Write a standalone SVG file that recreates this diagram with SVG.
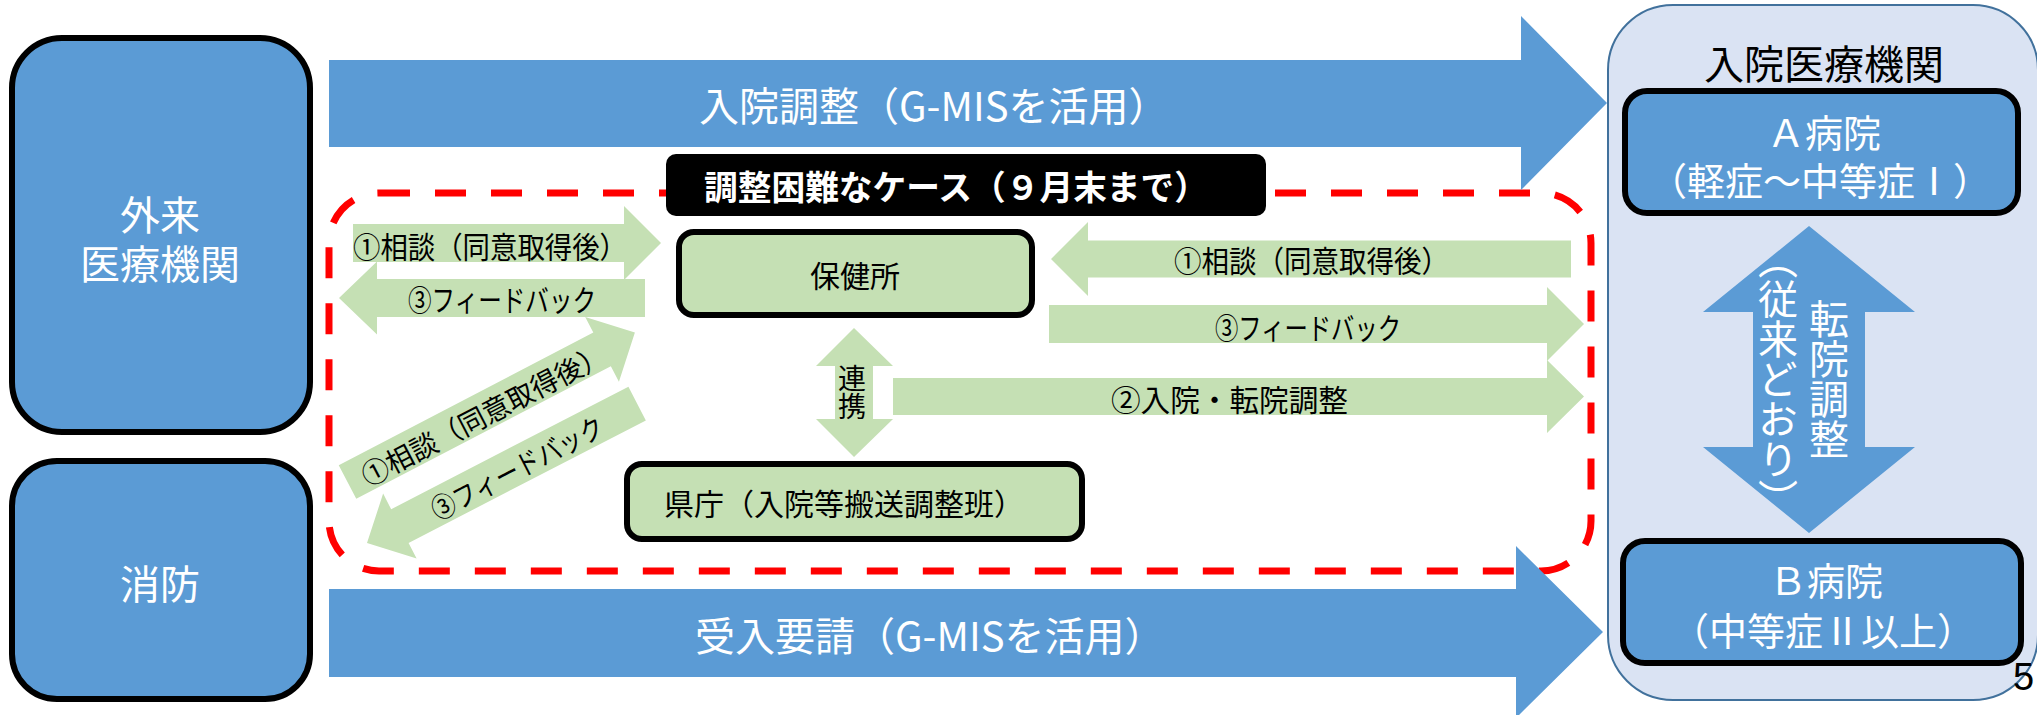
<svg xmlns="http://www.w3.org/2000/svg" width="2037" height="715" viewBox="0 0 2037 715">
<style>
text{font-family:"Noto Sans CJK JP","Noto Sans",sans-serif;dominant-baseline:central}
.blue{fill:#5B9BD5}
.green{fill:#C5E0B4}
.node{stroke:#000;stroke-width:6}
.w40{fill:#fff;font-size:40px}
.w38{fill:#fff;font-size:38px}
.b30{fill:#000;font-size:30px}
.b28{fill:#000;font-size:28px}
.vert{writing-mode:vertical-rl;text-anchor:middle}
</style>
<rect width="2037" height="715" fill="#fff"/>

<g id="container-hospitals">
<rect x="1608" y="5" width="430" height="695" rx="65" fill="#DAE3F3" stroke="#41719C" stroke-width="2"/>
<text x="1824" y="62" text-anchor="middle" style="font-size:40px;fill:#000">入院医療機関</text>
</g>

<g id="dashed-region">
<rect x="329" y="193" width="1262" height="378" rx="50" fill="none" stroke="#FF0000" stroke-width="7" stroke-dasharray="31 25"/>
</g>

<g id="label-difficult">
<rect x="666" y="154" width="600" height="62" rx="10" fill="#000"/>
<text x="704" y="185" style="font-size:34px;font-weight:bold;fill:#fff" textLength="504" lengthAdjust="spacingAndGlyphs">調整困難なケース（９月末まで）</text>
</g>

<g id="connectors">
<polygon class="blue" points="329,60 1521,60 1521,16 1607,103 1521,190 1521,147 329,147"/>
<text x="699" y="104" class="w40">入院調整（G-MISを活用）</text>
<polygon class="blue" points="329,589 1516,589 1516,546 1603,632 1516,718 1516,677 329,677"/>
<text x="695" y="634" class="w40">受入要請（G-MISを活用）</text>

<polygon class="green" points="353,224 624,224 624,206 661,243 624,280 624,262 353,262"/>
<text x="353" y="245" class="b30" textLength="274" lengthAdjust="spacingAndGlyphs">①相談（同意取得後）</text>
<polygon class="green" points="339,298 377,261.5 377,279 645,279 645,317 377,317 377,334.5"/>
<text x="408" y="298" class="b30" textLength="188" lengthAdjust="spacingAndGlyphs">③フィードバック</text>

<polygon class="green" points="1051,259 1088,222 1088,240.5 1571,240.5 1571,277.5 1088,277.5 1088,296"/>
<text x="1174" y="259" class="b30" textLength="275" lengthAdjust="spacingAndGlyphs">①相談（同意取得後）</text>
<polygon class="green" points="1049,305 1547,305 1547,287 1584,324 1547,361 1547,343 1049,343"/>
<text x="1215" y="326" class="b30" textLength="186" lengthAdjust="spacingAndGlyphs">③フィードバック</text>
<polygon class="green" points="893,378 1547,378 1547,360 1584,396.5 1547,433 1547,415 893,415"/>
<text x="1111" y="398" class="b30" textLength="237" lengthAdjust="spacingAndGlyphs">②入院・転院調整</text>

<polygon class="green" points="854,328 893,366 873,366 873,419 893,419 854,457 816,419 835,419 835,366 816,366"/>
<text x="852" y="392" class="b28 vert">連携</text>

<g transform="translate(347.5,482) rotate(-27.5)">
<polygon class="green" points="0,-19 287,-19 287,-36.5 324,0 287,36.5 287,19 0,19"/>
<text x="152" y="2" class="b28" text-anchor="middle" textLength="272" lengthAdjust="spacingAndGlyphs">①相談（同意取得後）</text>
</g>
<g transform="translate(367,543) rotate(-27.3)">
<polygon class="green" points="0,0 37,-36.5 37,-19 304,-19 304,19 37,19 37,36.5"/>
<text x="168" y="1" class="b28" text-anchor="middle" textLength="190" lengthAdjust="spacingAndGlyphs">③フィードバック</text>
</g>

<polygon class="blue" points="1809,226 1915,312 1865,312 1865,447 1915,447 1809,533 1703,447 1753,447 1753,312 1703,312"/>
<text x="1778" y="379" class="w40 vert">（従来どおり）</text>
<text x="1829" y="379" class="w40 vert">転院調整</text>
</g>

<g id="node-outpatient">
<rect x="12" y="38" width="298" height="394" rx="50" class="blue node"/>
<text text-anchor="middle" class="w40"><tspan x="160" y="213">外来</tspan><tspan x="160" y="262">医療機関</tspan></text>
</g>

<g id="node-fire">
<rect x="12" y="461" width="298" height="238" rx="45" class="blue node"/>
<text x="160" y="582" text-anchor="middle" class="w40">消防</text>
</g>

<g id="node-hokenjo">
<rect x="679" y="232" width="353" height="83" rx="15" class="green node"/>
<text x="855" y="274" text-anchor="middle" class="b30">保健所</text>
</g>

<g id="node-kencho">
<rect x="627" y="464" width="455" height="75" rx="15" class="green node"/>
<text x="844" y="502" text-anchor="middle" class="b30">県庁（入院等搬送調整班）</text>
</g>

<g id="node-hospital-a">
<rect x="1625" y="91" width="393" height="122" rx="22" class="blue node"/>
<text text-anchor="middle" class="w38"><tspan x="1824" y="130">Ａ病院</tspan><tspan x="1820" y="178">（軽症～中等症Ⅰ）</tspan></text>
</g>

<g id="node-hospital-b">
<rect x="1623" y="541" width="398" height="122" rx="22" class="blue node"/>
<text text-anchor="middle" class="w38"><tspan x="1826" y="578">Ｂ病院</tspan><tspan x="1823" y="628">（中等症Ⅱ以上）</tspan></text>
</g>

<g id="page-number">
<text x="2013" y="677" style="font-family:'Liberation Sans',sans-serif;font-size:38px;fill:#000">5</text>
</g>
</svg>
